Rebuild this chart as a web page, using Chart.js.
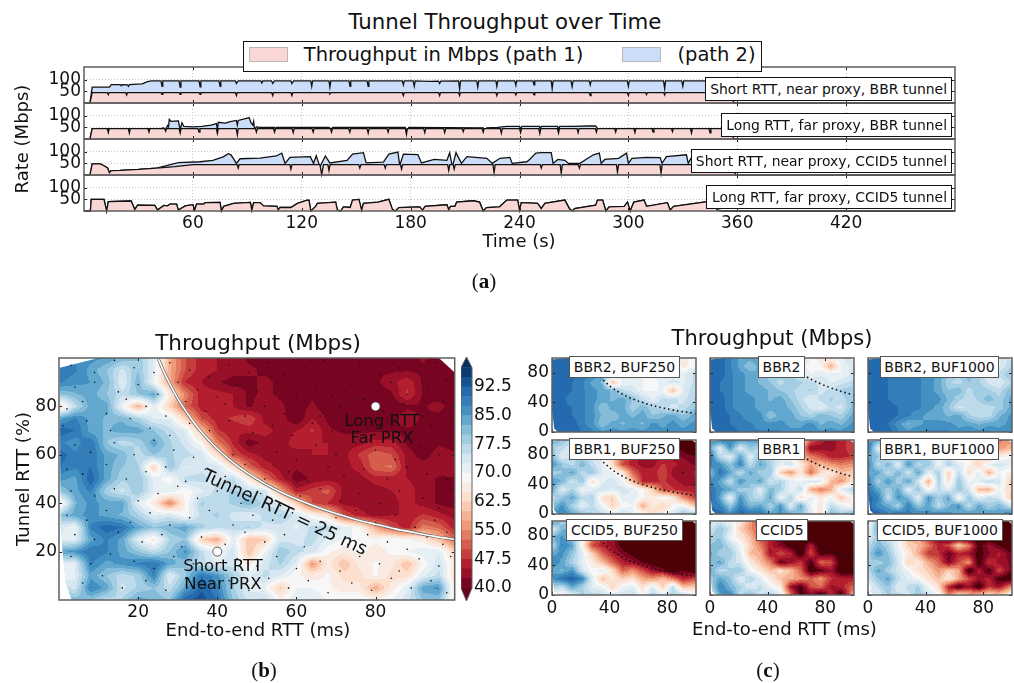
<!DOCTYPE html>
<html>
<head>
<meta charset="utf-8">
<title>Tunnel Throughput</title>
<script src="https://cdn.jsdelivr.net/npm/chart.js@4/dist/chart.umd.min.js"></script>
<style>
  html, body { margin: 0; padding: 0; background: #fff; }
  #page { position: relative; width: 1014px; height: 683px; overflow: hidden; font-family: "DejaVu Sans", sans-serif; color: #111; }
  canvas { position: absolute; }
  .txt { position: absolute; white-space: nowrap; line-height: 1; z-index: 5; }
  .box { position: absolute; box-sizing: border-box; background: #fff; z-index: 5; display: flex; align-items: center; white-space: nowrap; }
</style>
</head>
<body>
<div id="page"></div>
<script>
// ---------- panel (a): [seconds, Mbps] ----------
const timeTicks = [60, 120, 180, 240, 300, 360, 420];
const rateTicks = [50, 100];

const nearBbrPath1 = [[0,0],[3.3,0],[4.5,45],[12.8,45],[13.4,36],[13.8,45],[22.9,45],[23.5,35],[23.9,45],[42.4,45],[43,37],[43.4,45],[52.4,45],[53,37],[53.4,45],[63.4,45],[64,37],[64.4,45],[83.4,45],[84,32],[84.4,45],[103.4,45],[104,32],[104.4,45],[114,45],[114.6,32],[115,45],[135,45],[135.5,38],[136,45],[175.4,45],[176,32],[176.4,45],[195.4,45],[196,32],[196.4,45],[206.4,45],[207,32],[207.4,45],[227,45],[227.5,32],[228,45],[237.4,45],[238,35],[238.4,45],[247.4,45],[248,35],[248.4,45],[278.4,45],[279,32],[279.4,45],[299.4,45],[300,33],[300.4,45],[309.4,45],[310,36],[310.4,45],[319.4,45],[320,35],[320.4,45],[357,45],[358,0],[480,0]];
const nearBbrTop = [[0,0],[3.3,0],[4.5,68],[14,68],[15,79],[20,79],[20.5,74],[21,79],[24,78],[24.5,72],[25,79],[32,82],[35,92],[37,95],[42.4,95],[43,72],[43.4,95],[52.4,95],[53,68],[53.4,95],[63.4,95],[64,70],[64.4,95],[74.4,95],[75,72],[75.4,95],[83.4,95],[84,84],[85,95],[97.4,95],[98,86],[98.5,95],[103.4,95],[104,84],[105,95],[114,95],[114.6,84],[115.5,95],[125,95],[125.5,72],[126,95],[135,95],[135.5,68],[136,95],[146,95],[146.6,72],[147,95],[156,95],[156.6,72],[157,95],[175.4,95],[176,78],[176.5,95],[181.4,95],[182,72],[182.5,95],[190,93],[195.4,94],[196,84],[196.6,94],[206.4,95],[207,60],[207.5,95],[216.4,95],[217,68],[217.5,95],[227,95],[227.5,72],[228,95],[237.4,95],[238,76],[238.4,95],[247.4,95],[248,78],[248.4,95],[257.5,95],[258,62],[258.5,95],[268.4,95],[269,70],[269.5,95],[278.4,95],[279,78],[279.5,95],[299.4,95],[300,72],[300.5,95],[319.4,95],[320,62],[320.5,95],[329.4,95],[330,72],[330.5,95],[357,95],[358,0],[480,0]];

const farBbrPath1 = [[0,0],[3.3,0],[4.5,45],[12.8,45],[13.4,28],[13.9,45],[24.4,45],[25,26],[25.5,45],[35.2,45],[35.8,30],[36.3,45],[44.4,45],[45,34],[45.5,45],[52.4,45],[53,26],[53.5,45],[62.8,45],[63.4,30],[63.9,45],[72.9,45],[73.5,24],[74,45],[83.9,45],[84.5,18],[85,45],[94.4,45],[95,30],[95.5,45],[104.4,45],[105,30],[105.5,45],[114.7,45],[115.3,28],[115.8,45],[125.7,45],[126.3,30],[126.8,45],[135.8,45],[136.4,30],[136.9,45],[145.9,45],[146.5,30],[147,45],[156,45],[156.6,26],[157.1,45],[167,45],[167.6,30],[168.1,45],[177.1,45],[177.7,20],[178.2,45],[187.2,45],[187.8,28],[188.3,45],[198.2,45],[198.8,28],[199.3,45],[208.4,45],[209,32],[209.5,45],[219.4,45],[220,30],[220.5,45],[229.4,45],[230,25],[230.5,45],[240,45],[240.6,28],[241.1,45],[250.6,45],[251.2,24],[251.7,45],[260.9,45],[261.5,26],[262,45],[271.7,45],[272.3,28],[272.8,45],[281.8,45],[282.4,30],[282.9,45],[292.4,45],[293,30],[293.5,45],[303,45],[303.6,28],[304.1,45],[313,45],[313.6,30],[314.1,45],[323.7,45],[324.3,32],[324.8,45],[334.2,45],[334.8,26],[335.3,45],[344.4,45],[345,26],[345.5,45],[357,45],[358,0],[480,0]];
const farBbrTop = [[0,0],[3.3,0],[4.5,45],[42,45],[44,48],[45,38],[46,58],[46.6,52],[47,85],[48,76],[52,78],[53,40],[54,70],[55,54],[60,52],[65,54],[70,60],[73,66],[73.5,40],[74,72],[78,68],[80,74],[84,80],[84.5,60],[85,80],[90,90],[91,92],[92,70],[93,60],[93.5,76],[94,40],[95,52],[97,50],[105,50],[105.5,42],[106,50],[135,50],[136,40],[137,50],[177,50],[178,34],[179,50],[220,48],[221,38],[222,48],[228,50],[233,54],[240,54],[240.6,44],[241.3,54],[251,54],[251.4,44],[252,54],[261,54],[261.5,42],[262.2,54],[270,54],[278,56],[282,56],[283,45],[357,45],[358,0],[480,0]];

const nearCcidPath1 = [[0,0],[3.3,0],[4.5,48],[9,48],[11,40],[13,30],[14,10],[15,19],[20,20],[30,24],[40,30],[50,36],[60,45],[84.4,45],[85,30],[85.5,45],[113.5,45],[114,25],[114.6,45],[130,45],[131,2],[132,45],[134.4,45],[135,20],[135.6,45],[151.4,45],[152,30],[152.6,45],[165.4,45],[166,30],[166.6,45],[174.4,45],[175,25],[175.6,45],[200.4,45],[201,20],[201.6,45],[203.4,45],[204,25],[204.6,45],[225.4,45],[226,10],[226.6,45],[251.4,45],[252,30],[252.6,45],[262.4,45],[263,8],[263.6,45],[272.4,45],[273,30],[273.6,45],[293.4,45],[294,12],[294.6,45],[317.4,45],[318,8],[318.6,45],[358,45],[359,0],[480,0]];
const nearCcidTop = [[0,0],[3.3,0],[4.5,48],[9,48],[11,40],[13,30],[14,10],[15,19],[20,20],[30,24],[40,30],[52,53],[64,57],[71,63],[76.7,78],[79.5,92],[81,87],[84,50],[86,70],[97,73],[106,82],[109,94],[110.8,50],[113.5,76],[124.7,79],[126.5,50],[128,83],[130,35],[133,82],[135.5,52],[145,63],[148,90],[154,96],[155.5,52],[165,55],[168,90],[173,99],[174,40],[176,90],[184,88],[186,52],[193,67],[200,63],[201.5,96],[203,35],[205,96],[208,50],[211,79],[222,72],[225,50],[229.2,72],[234.7,76],[236,50],[244,57],[245.6,67],[249,94],[252,96],[257.5,96],[258.5,50],[261.2,67],[265,63],[267,50],[273.3,50],[280.7,87],[284,94],[285,50],[287,67],[294.6,72],[299,94],[300,50],[302,72],[310,76],[317.5,75],[318.5,50],[321,79],[332,87],[333,50],[335,79],[357,75],[358,45],[359,0],[480,0]];

const farCcidPath1 = [[0,0],[3.5,0],[4,50],[11,50],[12.5,0],[13.4,40],[26,43],[28,6],[29.5,25],[39,24],[40.5,4],[44,24],[46,22],[47.5,30],[51,30],[52,4],[55.8,22],[60,27],[61,4],[62,30],[66,30],[66.8,36],[75,37],[75.7,0],[77,20],[82.5,33],[91.7,37],[92.5,4],[93.5,36],[97,36],[99,22],[106.4,20],[107,4],[108,16],[114,15],[117.6,33],[123,47],[124,46],[125,0],[127.7,20],[128.6,33],[138.7,38],[139.6,4],[141.4,0],[143,18],[146.7,15],[148,47],[151.5,50],[153,4],[154,33],[162,38],[168,50],[170,6],[171.6,0],[173.5,15],[185,18],[186.6,4],[188,20],[200,27],[201,6],[202,20],[204.4,20],[205.4,38],[214.6,44],[218,38],[220,0],[221.8,15],[229,18],[233,47],[239,47],[240,4],[241,36],[250,33],[252,10],[254,33],[265,47],[267.5,10],[269.4,0],[270.3,10],[282,25],[283,47],[285.8,47],[287.6,0],[289.4,18],[297.7,20],[299.5,38],[301,0],[303,38],[308.6,47],[310,20],[321.5,36],[323,4],[325,20],[343.5,40],[347,38],[349,4],[352,0],[480,0]];

// ---------- panel (b) and (c) ----------
const colorLevels = [40,42.5,45,47.5,50,52.5,55,57.5,60,62.5,65,67.5,70,72.5,75,77.5,80,82.5,85,87.5,90,92.5,95,97.5];
const colorTicks = [40,47.5,55,62.5,70,77.5,85,92.5];
const axisTicksB = [20,40,60,80];
const axisTicksC = [0,40,80];

const mainGridX = [0,4,8,12,16,20,24,28,32,36,40,44,48,52,56,60,64,68,72,76,80,84,88,92,96,100];
const mainGridY = [100,95,90,85,80,75,70,65,60,55,50,45,40,35,30,25,20,15,10,5,0];
const mainGrid = [
[88,87,86,85,82,80,72,58,50,46,45,44,42,42,42,41,42,42,41,42,42,42,41,43,41,40],
[90,88,84,80,74,80,72,58,50,46,45,44,43,42,42,42,41,41,42,42,42,42,42,42,40,40],
[88,86,85,82,72,82,70,58,47,45,43,41,42,43,42,42,41,41,42,42,42,44,47,42,40,40],
[80,82,84,80,76,80,84,66,54,46,46,45,42,43,42,42,42,40,42,41,41,42,48,42,40,40],
[62,76,84,84,70,58,72,62,52,46,46,45,42,44,43,41,43,41,40,40,40,40,42,42,44,40],
[84,88,84,82,82,78,72,72,62,50,46,48,50,44,44,40,45,42,40,40,40,42,44,42,41,40],
[92,90,84,82,84,84,80,76,72,60,48,45,46,46,44,45,48,43,42,42,42,42,42,42,41,41],
[88,86,90,80,76,78,84,78,74,68,54,47,41,44,44,46,45,45,44,44,46,46,42,40,42,41],
[92,88,90,84,82,76,80,78,76,74,64,50,46,44,45,44,45,45,44,48,52,50,44,41,44,43],
[90,88,90,84,80,78,62,80,72,74,74,64,52,46,44,43,44,45,44,46,52,53,44,44,44,45],
[86,84,92,84,78,80,72,68,76,76,74,76,66,54,46,41,43,44,44,44,46,46,45,44,42,42],
[80,84,88,78,74,80,72,72,68,72,76,78,76,74,58,46,49,51,44,43,44,45,46,44,42,42],
[64,82,86,84,84,72,66,54,68,78,76,78,82,76,72,62,50,47,44,44,44,44,46,44,42,41],
[80,84,86,84,82,78,72,74,68,76,78,74,72,76,78,74,68,64,50,46,44,45,45,48,46,44],
[74,70,88,92,90,84,80,82,84,78,76,76,78,74,74,72,76,76,72,68,58,50,46,54,52,46],
[72,72,84,88,84,72,66,78,80,62,58,72,60,62,74,74,76,72,70,70,68,70,68,66,60,52],
[84,86,90,88,84,80,76,80,86,76,70,74,60,70,80,76,74,68,66,68,66,68,70,72,72,62],
[72,72,88,84,86,88,90,84,80,76,72,74,66,74,78,72,56,66,60,66,68,66,60,68,74,66],
[68,72,84,80,76,78,88,72,80,90,86,78,72,76,72,68,66,68,64,64,68,64,64,72,76,64],
[78,74,88,84,74,78,80,76,84,92,88,78,72,70,62,70,70,68,66,66,58,66,72,84,86,66],
[80,82,80,76,78,84,82,80,92,94,90,80,74,76,68,72,72,70,70,70,68,70,74,80,80,66]];
const mainHullX = [0.2,10,96,100,100,3.2,1.5,0.4];
const mainHullY = [96,100,100,94,0,0,8,30];

// sample positions, the small black dots
const sampleDots = [[3,97],[9,94],[14,99],[19,96],[24,94],[28,98],[33,95],[38,92],[43,97],[48,94],[53,98],[57,93],[62,96],[67,99],[72,94],[76,97],[81,93],[86,96],[91,94],[95,98],
[4,88],[9,90],[15,86],[20,89],[25,85],[30,90],[35,87],[40,84],[45,89],[50,86],[55,90],[60,85],[65,88],[69,84],[74,89],[79,86],[84,90],[88,85],[93,88],[98,91],
[2,79],[6,82],[12,77],[17,83],[22,80],[27,76],[32,82],[37,78],[42,81],[47,76],[52,80],[57,77],[62,82],[66,76],[71,80],[77,83],[82,78],[87,81],[92,76],[97,82],
[1,72],[7,74],[13,70],[18,75],[23,71],[28,68],[33,73],[38,70],[43,74],[49,69],[54,72],[59,68],[64,73],[69,70],[73,75],[78,71],[83,74],[89,69],[94,72],[99,75],
[4,64],[8,61],[14,65],[19,60],[24,66],[29,62],[34,59],[39,64],[44,60],[50,65],[55,61],[60,58],[65,64],[70,60],[75,65],[80,62],[85,58],[91,63],[96,60],[99,66],
[2,54],[6,52],[12,56],[17,50],[22,53],[27,55],[32,49],[37,54],[42,51],[47,56],[52,50],[58,53],[63,49],[68,55],[72,51],[77,54],[83,50],[88,55],[93,52],[98,50],
[3,45],[9,43],[14,46],[20,41],[25,44],[30,47],[35,42],[40,45],[46,40],[51,44],[56,39],[61,43],[66,46],[71,41],[76,44],[81,40],[86,45],[92,42],[96,38],[99,46],
[2,35],[7,33],[12,37],[18,32],[23,36],[28,31],[33,34],[38,37],[44,31],[49,35],[54,33],[59,36],[65,30],[70,34],[75,37],[80,32],[85,35],[90,30],[95,33],[98,28],
[4,27],[9,25],[15,28],[21,24],[26,27],[31,22],[36,26],[42,23],[47,28],[52,24],[57,27],[62,22],[67,26],[73,23],[78,27],[83,24],[88,21],[93,26],[97,23],
[3,18],[8,15],[13,19],[19,16],[24,13],[29,18],[34,15],[40,12],[45,17],[50,14],[55,18],[60,13],[66,16],[71,12],[76,18],[81,15],[86,12],[91,17],[96,14],[99,18],
[6,7],[11,10],[16,5],[22,8],[27,4],[32,9],[37,6],[43,8],[48,4],[53,9],[58,5],[63,8],[68,3],[74,7],[79,4],[84,9],[89,5],[94,8],[98,3]];
const markerX = [40, 80];
const markerY = [20, 80];

// tunnel RTT = 25 ms and 50 ms curves
const curve25X = [25,27,30,33,36,40,44,48,52,56,60,65,70,75,80,85,90,95,100];
const curve25Y = [100,92.6,83.3,75.8,69.4,62.5,56.8,52.1,48.1,44.6,41.7,38.5,35.7,33.3,31.3,29.4,27.8,26.3,25];
const curve50X = [50,55,60,65,70,75,80,85,90,95,100];
const curve50Y = [100,90.9,83.3,76.9,71.4,66.7,62.5,58.8,55.6,52.6,50];

const smallGridX = [0,7,14,21,28,35,42,49,56,63,70,77,84,91,100];
const smallGridY = [100,89,78,67,56,44,33,22,11,0];
const smallHullX = [0,10,97,100,100,4,1.5,0];
const smallHullY = [98,100,100,96,0,0,5,30];

const bbr2Buf250 = [
[92,92,92,92,90,80,78,76,74,72,72,70,70,66,70],
[92,92,92,90,88,84,80,76,74,72,72,70,72,66,70],
[92,92,91,90,88,84,78,76,72,70,72,70,70,72,76],
[92,92,90,88,84,82,60,70,72,70,68,72,74,72,76],
[92,92,90,88,86,84,82,76,74,70,70,70,60,72,78],
[92,91,88,88,86,84,82,84,80,76,72,76,76,74,78],
[92,91,90,88,86,80,84,84,78,82,78,76,74,76,80],
[92,92,90,88,86,82,80,84,82,84,80,82,84,80,84],
[92,92,92,88,86,80,84,82,84,82,86,84,86,84,86],
[92,92,92,90,88,86,86,86,86,86,86,86,86,86,86]];
const bbr2 = [
[92,92,88,84,84,86,86,84,80,76,70,66,68,72,76],
[92,92,88,84,80,84,84,82,78,72,68,68,58,70,74],
[92,92,88,86,84,82,78,80,76,74,70,72,72,70,74],
[92,90,88,86,84,82,80,76,80,78,76,74,72,74,76],
[92,90,88,86,84,84,82,80,78,76,78,74,76,78,80],
[92,92,88,86,86,84,82,84,80,76,72,76,78,76,80],
[92,92,88,86,86,84,84,84,82,78,74,72,76,74,82],
[92,92,90,88,86,86,80,84,84,80,78,82,80,78,84],
[92,92,90,88,88,86,86,86,84,84,86,82,84,82,86],
[92,92,92,90,88,88,88,88,86,86,88,86,86,86,88]];
const bbr2Buf1000 = [
[92,92,92,90,88,88,88,86,84,84,80,78,76,72,76],
[92,92,90,88,88,88,86,86,84,82,78,76,76,72,78],
[92,92,90,88,88,88,86,84,80,78,82,78,72,76,80],
[92,92,90,88,88,88,86,84,78,76,80,78,74,72,78],
[92,92,90,88,88,88,86,84,80,82,76,80,78,76,82],
[92,92,90,88,88,88,86,86,82,78,76,78,82,78,84],
[92,92,92,90,88,88,86,84,80,74,76,76,76,78,84],
[92,92,92,90,88,86,84,84,82,84,78,76,76,82,86],
[92,92,90,86,82,84,86,86,86,84,84,82,84,84,86],
[92,92,92,88,86,88,88,88,88,86,88,86,88,86,88]];
const bbr1Buf250 = [
[84,80,76,78,72,70,68,64,56,48,46,44,42,38,36],
[78,76,72,80,76,72,66,60,52,46,44,44,42,38,36],
[82,72,76,78,74,70,62,52,46,44,44,44,44,42,40],
[86,80,76,82,76,72,64,50,46,44,44,48,46,44,42],
[78,80,84,76,80,72,70,66,52,46,46,50,44,42,46],
[86,82,74,80,64,72,74,70,60,47,46,48,46,44,44],
[84,72,78,70,72,74,72,74,72,68,62,50,48,46,46],
[76,80,84,76,78,64,62,72,72,68,66,70,66,56,48],
[80,86,78,72,76,70,62,68,70,58,66,62,68,70,60],
[86,88,84,80,78,76,72,76,72,70,62,68,72,80,78]];
const bbr1 = [
[86,90,88,86,84,86,80,74,70,68,52,46,44,46,50],
[84,72,86,72,80,76,78,76,68,62,42,44,44,46,50],
[90,76,72,84,72,80,76,72,70,58,54,50,46,46,48],
[88,86,80,88,76,84,78,72,74,66,58,60,56,54,56],
[80,90,84,76,84,78,80,62,56,66,52,64,66,60,62],
[88,84,76,86,80,84,74,78,72,70,74,72,60,56,66],
[90,86,84,78,80,72,82,78,70,76,58,54,58,72,78],
[92,84,70,86,78,76,84,70,78,64,72,66,70,60,70],
[90,88,80,88,82,84,78,86,72,84,70,66,76,72,66],
[92,92,86,92,90,90,84,86,84,80,74,64,82,78,84]];
const bbr1Buf1000 = [
[88,84,78,84,84,80,80,76,72,70,68,66,60,54,56],
[90,72,80,76,84,82,78,74,72,68,66,66,62,56,60],
[84,80,74,80,78,84,76,72,74,66,70,64,56,66,70],
[88,76,82,72,86,76,80,70,78,72,68,62,72,74,72],
[84,84,76,82,74,84,72,78,62,76,64,72,58,70,66],
[88,78,86,78,84,74,58,78,64,80,70,72,76,74,60],
[90,84,78,84,72,80,68,76,72,80,74,60,58,70,62],
[92,88,76,86,82,72,86,78,84,68,80,72,76,74,60],
[92,86,84,78,88,80,84,76,82,86,76,84,78,82,74],
[92,92,88,90,88,88,86,88,86,84,86,84,86,84,90]];
const ccid5Buf250 = [
[88,78,80,72,58,50,42,36,35,35,35,35,35,35,35],
[72,82,84,70,56,48,42,36,35,35,35,35,35,35,35],
[82,86,80,70,54,46,44,36,35,35,35,35,35,35,35],
[76,88,84,68,50,46,44,38,36,35,35,35,35,35,35],
[84,86,80,72,62,52,46,42,38,35,35,35,35,35,35],
[88,84,78,72,66,60,52,46,44,40,38,35,35,35,35],
[84,82,86,74,68,72,64,52,56,50,44,42,36,40,36],
[86,90,92,88,72,60,66,62,64,58,56,60,54,46,50],
[78,76,84,78,72,70,62,70,72,64,72,62,76,60,62],
[70,68,72,78,76,76,72,74,76,68,78,72,78,76,70]];
const ccid5 = [
[72,74,70,66,56,48,46,42,36,35,35,35,35,35,35],
[74,80,74,62,56,50,46,44,36,35,35,35,35,35,35],
[78,80,70,66,60,50,46,38,36,35,35,35,38,35,35],
[80,82,76,70,62,54,46,42,38,35,46,36,35,35,35],
[84,78,80,72,60,58,44,50,46,36,50,38,40,36,35],
[80,84,76,74,66,60,54,40,44,48,38,52,50,36,35],
[84,76,78,80,70,66,60,64,60,52,36,40,44,36,35],
[78,84,80,72,78,72,66,60,58,56,52,56,48,46,46],
[76,88,82,78,72,76,70,66,44,38,50,52,44,46,52],
[72,84,88,76,82,74,78,72,54,38,42,36,48,36,60]];
const ccid5Buf1000 = [
[66,82,78,72,64,56,46,42,36,35,36,40,38,36,42],
[70,84,78,70,62,54,48,40,36,35,35,36,35,35,36],
[72,80,74,72,58,58,46,42,36,35,35,35,35,35,35],
[76,82,78,70,62,60,54,46,50,62,54,38,44,40,35],
[78,86,80,72,66,58,48,48,40,46,44,38,42,46,40],
[80,78,82,74,62,66,58,52,42,50,56,36,48,44,42],
[76,84,78,74,70,64,62,56,62,58,36,46,38,50,40],
[74,80,84,76,72,70,64,60,66,58,50,44,46,38,36],
[70,76,80,72,76,78,70,64,46,38,44,36,48,44,56],
[74,72,78,76,74,80,74,70,54,66,60,62,64,62,70]];

// ---------- helpers ----------
const page = document.getElementById('page');
const fontName = '"DejaVu Sans", sans-serif';
const frameColor = '#5f5f5f';
const pink = '#f8d7d5';
const blue = '#cbddf8';
Chart.defaults.font.family = fontName;
Chart.defaults.color = '#111';
Chart.defaults.animation = false;

const rdbuStops = [[103,0,31],[178,24,43],[214,96,77],[244,165,130],[253,219,199],[247,247,247],[209,229,240],[146,197,222],[67,147,195],[33,102,172],[5,48,97]];
function rdbu(t) {
  t = Math.max(0, Math.min(1, t)) * 10;
  const i = Math.min(9, Math.floor(t)), f = t - i, a = rdbuStops[i], b = rdbuStops[i + 1];
  return [0, 1, 2].map(k => Math.round(a[k] + (b[k] - a[k]) * f));
}
function bandRgb(v) {
  if (v < 40) return [77, 0, 5];
  if (v >= 97.5) return rdbuStops[10];
  const idx = Math.floor((v - 40) / 2.5);
  return rdbu((idx + 0.5) * 2.5 / 57.5);
}
function findCell(list, v, descending) {
  for (let i = 0; i < list.length - 1; i++) {
    const a = list[i], b = list[i + 1];
    if (descending ? (v <= a && v >= b) : (v >= a && v <= b)) return [i, (v - a) / (b - a)];
  }
  return descending ? (v > list[0] ? [0, 0] : [list.length - 2, 1]) : (v < list[0] ? [0, 0] : [list.length - 2, 1]);
}

// paints the filled contour bands of a grid through the chart's scales
const contourPlugin = {
  id: 'contour',
  beforeDatasetsDraw(chart, args, o) {
    if (!o.grid) return;
    const { ctx, chartArea: a, scales: { x, y } } = chart;
    const w = Math.round(a.right - a.left), h = Math.round(a.bottom - a.top);
    const off = document.createElement('canvas');
    off.width = w; off.height = h;
    const oc = off.getContext('2d'), img = oc.createImageData(w, h);
    for (let py = 0; py < h; py++) {
      const [r, fy] = findCell(o.gridY, y.getValueForPixel(a.top + py + 0.5), true);
      for (let px = 0; px < w; px++) {
        const [c, fx] = findCell(o.gridX, x.getValueForPixel(a.left + px + 0.5), false);
        const top = o.grid[r][c] * (1 - fx) + o.grid[r][c + 1] * fx;
        const bot = o.grid[r + 1][c] * (1 - fx) + o.grid[r + 1][c + 1] * fx;
        const rgb = bandRgb(top * (1 - fy) + bot * fy), p = (py * w + px) * 4;
        img.data[p] = rgb[0]; img.data[p + 1] = rgb[1]; img.data[p + 2] = rgb[2]; img.data[p + 3] = 255;
      }
    }
    oc.putImageData(img, 0, 0);
    ctx.save();
    ctx.beginPath();
    o.hullX.forEach((hx, i) => ctx.lineTo(x.getPixelForValue(hx), y.getPixelForValue(o.hullY[i])));
    ctx.closePath();
    ctx.clip();
    ctx.drawImage(off, a.left, a.top);
    ctx.restore();
  }
};

// axes frame and the little inward ticks, on all four sides
const framePlugin = {
  id: 'frame',
  afterDatasetsDraw(chart, args, o) {
    if (o.skip) return;
    const { ctx, chartArea: a, scales: { x, y } } = chart;
    ctx.save();
    ctx.strokeStyle = '#222';
    ctx.lineWidth = 1;
    ctx.beginPath();
    x.ticks.forEach(t => {
      const p = Math.round(x.getPixelForValue(t.value)) + 0.5;
      ctx.moveTo(p, a.top); ctx.lineTo(p, a.top + 3);
      ctx.moveTo(p, a.bottom); ctx.lineTo(p, a.bottom - 3);
    });
    y.ticks.forEach(t => {
      const p = Math.round(y.getPixelForValue(t.value)) + 0.5;
      ctx.moveTo(a.left, p); ctx.lineTo(a.left + 3, p);
      ctx.moveTo(a.right, p); ctx.lineTo(a.right - 3, p);
    });
    ctx.stroke();
    ctx.strokeStyle = frameColor;
    ctx.lineWidth = 1.5;
    ctx.strokeRect(a.left, a.top, a.right - a.left, a.bottom - a.top);
    ctx.restore();
  }
};

// pointed ends of the colour bar
const tipsPlugin = {
  id: 'tips',
  afterDatasetsDraw(chart, args, o) {
    if (!o.on) return;
    const { ctx, chartArea: a, scales: { y } } = chart;
    const mid = (a.left + a.right) / 2, lo = y.getPixelForValue(40), hi = y.getPixelForValue(97.5);
    ctx.save();
    ctx.fillStyle = '#67001f';
    ctx.beginPath(); ctx.moveTo(a.left, lo); ctx.lineTo(a.right, lo); ctx.lineTo(mid, a.bottom); ctx.fill();
    ctx.fillStyle = '#053061';
    ctx.beginPath(); ctx.moveTo(a.left, hi); ctx.lineTo(a.right, hi); ctx.lineTo(mid, a.top); ctx.fill();
    ctx.strokeStyle = frameColor;
    ctx.lineWidth = 1;
    ctx.beginPath();
    ctx.moveTo(mid, a.top); ctx.lineTo(a.right, hi); ctx.lineTo(a.right, lo); ctx.lineTo(mid, a.bottom);
    ctx.lineTo(a.left, lo); ctx.lineTo(a.left, hi); ctx.closePath();
    ctx.stroke();
    ctx.restore();
  }
};
Chart.register(contourPlugin, framePlugin, tipsPlugin);

// makes a chart whose plot area lands exactly on box (page pixels)
function makeChart(box, m, config) {
  const c = document.createElement('canvas');
  const w = box.x1 - box.x0 + m.l + m.r, h = box.y1 - box.y0 + m.t + m.b;
  c.width = w; c.height = h;
  c.style.left = (box.x0 - m.l) + 'px';
  c.style.top = (box.y0 - m.t) + 'px';
  c.style.width = w + 'px';
  c.style.height = h + 'px';
  page.appendChild(c);
  const opt = config.options;
  opt.responsive = false;
  opt.devicePixelRatio = 1;
  opt.events = [];
  opt.layout = { padding: { top: m.t, right: opt.scales.y.position === 'right' ? 0 : m.r, left: 0, bottom: 0 } };
  opt.scales.x.afterFit = s => { s.height = m.b; };
  opt.scales.y.afterFit = s => { s.width = opt.scales.y.position === 'right' ? m.r : m.l; };
  return new Chart(c, config);
}
function fixedTicks(list) {
  return s => { s.ticks = list.map(v => ({ value: v })); };
}
function txt(text, cx, cy, size, rot) {
  const d = document.createElement('div');
  d.className = 'txt';
  d.textContent = text;
  d.style.left = cx + 'px';
  d.style.top = cy + 'px';
  d.style.fontSize = size + 'px';
  d.style.transform = 'translate(-50%,-50%)' + (rot ? ' rotate(' + rot + 'deg)' : '');
  page.appendChild(d);
  return d;
}
function labelBox(text, x0, y0, x1, y1, size, border, align) {
  const d = document.createElement('div');
  d.className = 'box';
  d.textContent = text;
  d.style.cssText += `left:${x0}px;top:${y0}px;width:${x1 - x0}px;height:${y1 - y0}px;font-size:${size}px;border:${border};justify-content:${align};padding:0 4px;`;
  page.appendChild(d);
}
function caption(letter, cx, cy) {
  const d = txt('', cx, cy, 21);
  d.style.fontFamily = '"Liberation Serif", serif';
  d.append('(');
  const b = document.createElement('b');
  b.textContent = letter;
  d.append(b, ')');
}

// ---------- (a) four stacked time series ----------
const timePanels = [
  { y0: 67, y1: 103, path1: nearBbrPath1, top: nearBbrTop, note: 'Short RTT, near proxy, BBR tunnel', nx: 705, ny0: 77, ny1: 101 },
  { y0: 103, y1: 139, path1: farBbrPath1, top: farBbrTop, note: 'Long RTT, far proxy, BBR tunnel', nx: 721, ny0: 113, ny1: 137 },
  { y0: 139, y1: 175, path1: nearCcidPath1, top: nearCcidTop, note: 'Short RTT, near proxy, CCID5 tunnel', nx: 691, ny0: 149, ny1: 173 },
  { y0: 175, y1: 211, path1: farCcidPath1, top: farCcidPath1, note: 'Long RTT, far proxy, CCID5 tunnel', nx: 706, ny0: 185, ny1: 209 }
];
timePanels.forEach((p, i) => {
  const last = i === timePanels.length - 1;
  const lineOf = (data, color, order) => ({
    data, order, fill: 'origin', backgroundColor: color, borderColor: '#111',
    borderWidth: 1.3, pointRadius: 0, tension: 0, clip: 4
  });
  makeChart({ x0: 84, x1: 955, y0: p.y0, y1: p.y1 }, { l: 84, r: 10, t: 16, b: last ? 30 : 16 }, {
    type: 'line',
    data: { datasets: [lineOf(p.path1, pink, 1), lineOf(p.top, blue, 2)] },
    options: {
      plugins: { legend: { display: false }, tooltip: { enabled: false } },
      scales: {
        x: {
          type: 'linear', min: 0, max: 480, afterBuildTicks: fixedTicks(timeTicks),
          grid: { color: '#c4c4c4', drawTicks: false },
          border: { display: false, dash: [1, 2] },
          ticks: { display: last, font: { size: 17 }, padding: 2, maxRotation: 0, autoSkip: false }
        },
        y: {
          min: 0, max: 155, afterBuildTicks: fixedTicks(rateTicks),
          grid: { color: '#c4c4c4', drawTicks: false },
          border: { display: false, dash: [1, 2] },
          ticks: { font: { size: 17 }, padding: 3, autoSkip: false }
        }
      }
    }
  });
  labelBox(p.note, p.nx, p.ny0, 952, p.ny1, 13.9, '1px solid #111', 'flex-end');
});

txt('Tunnel Throughput over Time', 505, 22, 21.3);
txt('Rate (Mbps)', 22, 139, 18, -90);
txt('Time (s)', 519, 241, 18);
caption('a', 484, 281);

// legend of panel (a)
const legendBox = document.createElement('div');
legendBox.className = 'box';
legendBox.style.cssText += 'left:243px;top:41px;width:519px;height:31px;border:1px solid #111;';
page.appendChild(legendBox);
[[249, pink], [622, blue]].forEach(([x, color]) => {
  const d = document.createElement('div');
  d.className = 'box';
  d.style.cssText += `left:${x}px;top:47px;width:39px;height:15px;background:${color};border:1px solid #b9b9b9;z-index:6;`;
  page.appendChild(d);
});
txt('Throughput in Mbps (path 1)', 443.5, 55, 19.5).style.zIndex = 6;
txt('(path 2)', 716.5, 55, 19.5).style.zIndex = 6;

// ---------- (b) large contour map ----------
const sharedAxis = (ticks, showLabels, pad) => ({
  min: 0, max: 100, type: 'linear', afterBuildTicks: fixedTicks(ticks),
  grid: { display: false, drawTicks: false }, border: { display: false },
  ticks: { display: showLabels, font: { size: 17 }, padding: pad, maxRotation: 0, autoSkip: false }
});

makeChart({ x0: 59, x1: 456, y0: 358, y1: 600 }, { l: 59, r: 4, t: 16, b: 30 }, {
  type: 'scatter',
  data: {
    datasets: [
      { data: markerX.map((x, i) => ({ x, y: markerY[i] })), order: 1, pointRadius: 4.5, backgroundColor: '#fff', borderColor: '#333', borderWidth: 0.8 },
      { data: curve25X.map((x, i) => ({ x, y: curve25Y[i] })), order: 2, showLine: true, borderColor: '#fff', borderWidth: 1.6, pointRadius: 0, tension: 0.3 },
      { data: curve25X.map((x, i) => ({ x, y: curve25Y[i] })), order: 3, showLine: true, borderColor: '#666', borderWidth: 3, pointRadius: 0, tension: 0.3 },
      { data: sampleDots.map(d => ({ x: d[0], y: d[1] })), order: 4, pointRadius: 0.8, backgroundColor: '#111', borderWidth: 0 }
    ]
  },
  options: {
    plugins: {
      legend: { display: false }, tooltip: { enabled: false },
      contour: { grid: mainGrid, gridX: mainGridX, gridY: mainGridY, hullX: mainHullX, hullY: mainHullY }
    },
    scales: { x: sharedAxis(axisTicksB, true, 2), y: sharedAxis(axisTicksB, true, 2) }
  }
});
txt('Throughput (Mbps)', 258, 343, 21.5);
txt('End-to-end RTT (ms)', 258, 630, 18);
txt('Tunnel RTT (%)', 23, 479, 18, -90);
txt('Tunnel RTT = 25 ms', 285, 512, 18, 25);
txt('Long RTT', 382, 421, 16.5);
txt('Far PRX', 382, 438, 16.5);
txt('Short RTT', 223, 566, 16.5);
txt('Near PRX', 223, 584, 16.5);
caption('b', 264, 670);

// colour bar
const colorBands = colorLevels.slice(0, -1).map((lo, i) => ({
  data: [[lo, colorLevels[i + 1]]],
  backgroundColor: 'rgb(' + bandRgb(lo + 1).join(',') + ')',
  grouped: false, barPercentage: 1, categoryPercentage: 1, borderWidth: 0
}));
makeChart({ x0: 461, x1: 472, y0: 357, y1: 601 }, { l: 0, r: 48, t: 16, b: 16 }, {
  type: 'bar',
  data: { labels: [''], datasets: colorBands },
  options: {
    plugins: { legend: { display: false }, tooltip: { enabled: false }, frame: { skip: true }, tips: { on: true } },
    scales: {
      x: { display: true, grid: { display: false, drawTicks: false }, border: { display: false }, ticks: { display: false } },
      y: {
        position: 'right', min: 36.6, max: 100.3, afterBuildTicks: fixedTicks(colorTicks),
        grid: { display: false, drawTicks: false }, border: { display: false },
        ticks: { font: { size: 17 }, padding: 2, autoSkip: false, callback: v => v.toFixed(1) }
      }
    }
  }
});

// ---------- (c) small multiples ----------
const colStarts = [552, 710, 868];
const rowStarts = [358, 440, 521];
const smallPanels = [
  { grid: bbr2Buf250, col: 0, row: 0, name: 'BBR2, BUF250', bx0: 569, bx1: 680, curveX: curve25X, curveY: curve25Y },
  { grid: bbr2, col: 1, row: 0, name: 'BBR2', bx0: 758, bx1: 805, curveX: curve50X, curveY: curve50Y },
  { grid: bbr2Buf1000, col: 2, row: 0, name: 'BBR2, BUF1000', bx0: 880, bx1: 999 },
  { grid: bbr1Buf250, col: 0, row: 1, name: 'BBR1, BUF250', bx0: 569, bx1: 680, curveX: curve25X, curveY: curve25Y },
  { grid: bbr1, col: 1, row: 1, name: 'BBR1', bx0: 758, bx1: 805, curveX: curve50X, curveY: curve50Y },
  { grid: bbr1Buf1000, col: 2, row: 1, name: 'BBR1, BUF1000', bx0: 880, bx1: 999 },
  { grid: ccid5Buf250, col: 0, row: 2, name: 'CCID5, BUF250', bx0: 566, bx1: 683, curveX: curve25X, curveY: curve25Y },
  { grid: ccid5, col: 1, row: 2, name: 'CCID5', bx0: 756, bx1: 808, curveX: curve50X, curveY: curve50Y },
  { grid: ccid5Buf1000, col: 2, row: 2, name: 'CCID5, BUF1000', bx0: 877, bx1: 1003 }
];
smallPanels.forEach(p => {
  const x0 = colStarts[p.col], y0 = rowStarts[p.row];
  const datasets = p.curveX ? [{
    data: p.curveX.map((x, i) => ({ x, y: p.curveY[i] })), showLine: true, borderColor: '#111',
    borderWidth: 1.6, borderDash: [1.5, 3], pointRadius: 0, tension: 0.3
  }] : [{ data: [] }];
  makeChart({ x0, x1: x0 + 144, y0, y1: y0 + 74 }, { l: p.col === 0 ? 34 : 14, r: 2, t: 16, b: p.row === 2 ? 30 : 16 }, {
    type: 'scatter',
    data: { datasets },
    options: {
      plugins: {
        legend: { display: false }, tooltip: { enabled: false },
        contour: { grid: p.grid, gridX: smallGridX, gridY: smallGridY, hullX: smallHullX, hullY: smallHullY }
      },
      scales: { x: sharedAxis(axisTicksC, p.row === 2, 3), y: sharedAxis(axisTicksC, p.col === 0, 3) }
    }
  });
  labelBox(p.name, p.bx0, y0 - 2.5, p.bx1, y0 + 19.5, 14, '1.5px solid #555', 'center');
});
txt('Throughput (Mbps)', 772, 338, 21);
txt('End-to-end RTT (ms)', 784.5, 629, 18);
caption('c', 768, 670);
</script>
</body>
</html>
